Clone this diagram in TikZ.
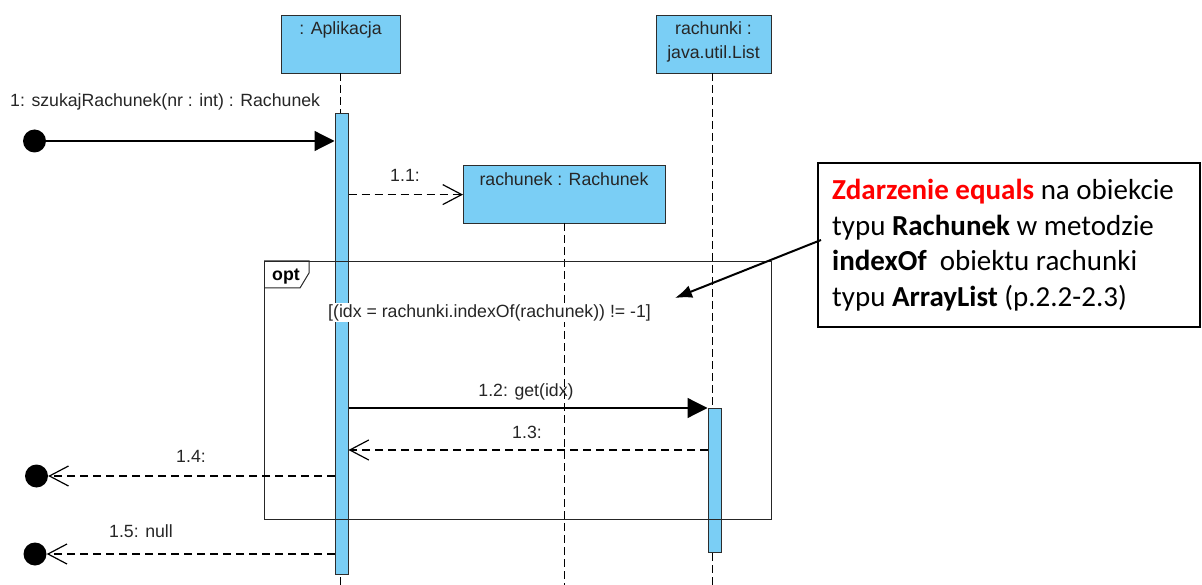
\documentclass[tikz,border=0pt]{standalone}
\usepackage{fontspec}
\setmainfont{Liberation Sans}
\newfontfamily\notefont{Carlito}
\usetikzlibrary{arrows.meta}
\definecolor{lifeblue}{RGB}{122,206,245}
\definecolor{boxline}{RGB}{45,45,45}
\definecolor{notered}{RGB}{255,0,0}
\begin{document}
\begin{tikzpicture}[x=1pt,y=-1pt,
  lbl/.style={font=\fontsize{17.7}{21}\selectfont, text=black!85, inner sep=0pt, anchor=base},
  objbox/.style={draw=boxline, line width=1.2pt, fill=lifeblue, anchor=north west, inner sep=0pt, minimum height=58pt},
  actbar/.style={draw=boxline, line width=1pt, fill=lifeblue, anchor=north, inner sep=0pt, minimum width=13pt},
  lifeline/.style={draw=black, line width=1pt, dash pattern=on 8pt off 4pt},
  dot/.style={circle, fill=black, inner sep=0pt, minimum size=23pt},
  syncmsg/.style={draw=black, line width=1.2pt, -{Triangle[length=20pt,width=20pt]}},
  retmsg/.style={draw=black, line width=1.2pt, dash pattern=on 8pt off 5pt, -{Straight Barb[length=19pt,width=20pt,line width=1.2pt]}},
  framebox/.style={draw=black!85, line width=1pt, anchor=north west, inner sep=0pt},
  notebox/.style={draw=black, line width=1.6pt, anchor=north west, inner sep=0pt},
  notetxt/.style={font=\notefont\fontsize{29}{34}\selectfont, inner sep=0pt, anchor=base west},
]
\useasboundingbox (0,0) rectangle (1202,585);
% object boxes
\node[objbox, minimum width=119pt] (apl) at (281,15) {};
\node[objbox, minimum width=115pt] (rki) at (656,15) {};
\node[objbox, minimum width=202pt] (rk) at (463,165) {};
\node[lbl] at (340.5,35) {: Aplikacja};
\node[lbl] at (713.5,35) {rachunki :};
\node[lbl] at (713.5,59) {java.util.List};
\node[lbl] at (564,186) {rachunek : Rachunek};
% lifelines
\draw[lifeline] (340,73) -- (340,585);
\draw[lifeline] (712,73) -- (712,585);
\draw[lifeline] (564,223) -- (564,585);
% activation bars
\node[actbar, minimum height=461pt] (barA) at (341.5,113) {};
\node[actbar, minimum height=144pt] (barR) at (714.5,408) {};
% opt frame
\node[framebox, minimum width=507pt, minimum height=258pt] (opt) at (264,261) {};
\draw[draw=black!85, line width=1pt] (opt.north west) -- ++(45,0) -- ++(0,12) -- ++(-9,15) -- (opt.north west |- 0,288);
\node[lbl, font=\bfseries\fontsize{17.7}{21}\selectfont, text=black, anchor=base west] at (272,281) {opt};
\node[lbl, fill=white, inner sep=1pt, anchor=base west] at (327,317) {[(idx = rachunki.indexOf(rachunek)) != -1]};
% messages
\node[dot] (d1) at (34.5,141) {};
\node[dot] (d4) at (36.5,476) {};
\node[dot] (d5) at (35,554) {};
\draw[syncmsg] (d1) -- (barA.west |- d1);
\node[lbl, anchor=base west] at (10,107) {1: szukajRachunek(nr : int) : Rachunek};
\draw[retmsg] (barA.east |- rk.west) -- (rk.west);
\node[lbl] at (405,182) {1.1:};
\draw[syncmsg] (barA.east |- barR.north) -- (barR.north west);
\node[lbl] at (526,396) {1.2: get(idx)};
\coordinate (r3) at (708,450);
\draw[retmsg] (r3) -- (barA.east |- r3);
\node[lbl] at (527,438) {1.3:};
\coordinate (r4) at (335,476);
\draw[retmsg] (r4) -- (d4);
\node[lbl] at (191,462) {1.4:};
\coordinate (r5) at (335,554);
\draw[retmsg] (r5) -- (d5);
\node[lbl] at (141,537) {1.5: null};
% note
\node[notebox, minimum width=382pt, minimum height=164pt] (note) at (817,162) {};
\node[notetxt] at (832,200) {\textcolor{notered}{\bfseries Zdarzenie equals} na obiekcie};
\node[notetxt] at (832,236) {typu \textbf{Rachunek} w metodzie};
\node[notetxt] at (832,271) {\textbf{indexOf}\ \ obiektu rachunki};
\node[notetxt] at (832,307) {typu \textbf{ArrayList} (p.2.2-2.3)};
\coordinate (ns) at (821,240);
\coordinate (nt) at (675,298);
\draw[line width=2pt, -{Latex[length=17pt,width=13pt]}] (ns) -- (nt);
\end{tikzpicture}
\end{document}
